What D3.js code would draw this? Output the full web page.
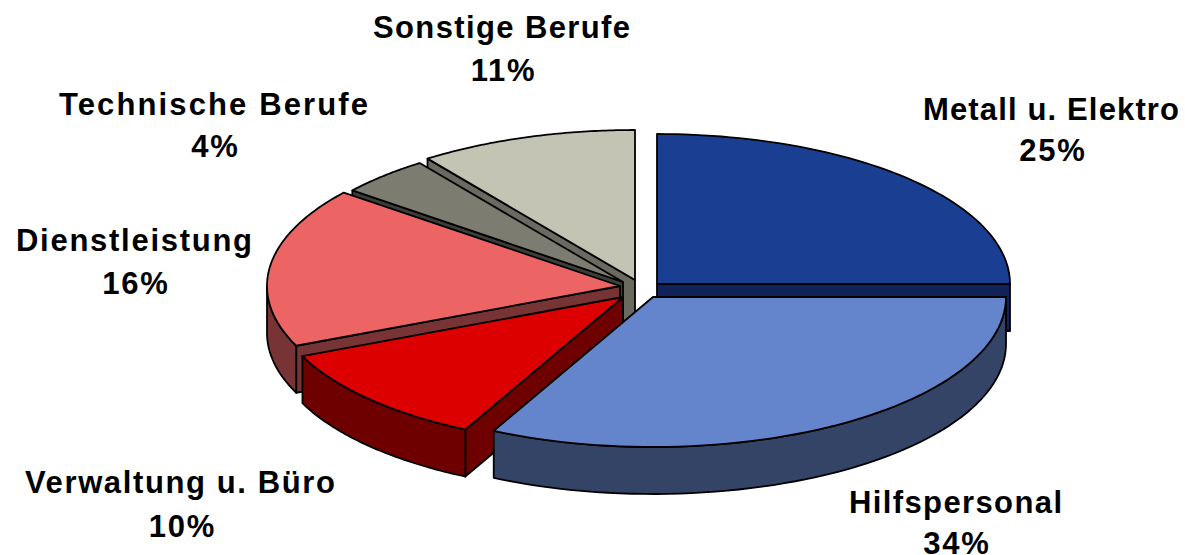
<!DOCTYPE html>
<html><head><meta charset="utf-8">
<script src="https://cdn.jsdelivr.net/npm/d3@7/dist/d3.min.js"></script>
<style>html,body{margin:0;padding:0;background:#fff;overflow:hidden}svg{display:block}
text{font-family:"Liberation Sans",Arial,sans-serif;font-weight:bold;font-size:31px;fill:#000;text-anchor:middle}
text.pct{letter-spacing:1.8px}</style>
</head><body><svg id="c" width="1185" height="555"></svg>
<script>
const categories = ["Metall u. Elektro","Hilfspersonal","Verwaltung u. Büro","Dienstleistung","Technische Berufe","Sonstige Berufe"];
const percentLabels = ["25%","34%","10%","16%","4%","11%"];
// Share of the ellipse each slice covers as drawn (perspective makes this differ from the printed percent)
const drawnShares = [25, 32.45, 11.03, 17.22, 4.3, 10];
const topColors  = ["#1a3f92","#6485cb","#dd0000","#ec6464","#7c7c70","#c3c4b4"];
const sideColors = ["#0f2358","#334466","#6e0000","#783434","#3e3e38","#6a6a60"];
// Exploded apex of each slice, slice radius factor, and label anchors
const apexX = [657,653,623,620,623,635];
const apexY = [284,297,297,286,282,280];
const radiusFactor = [1,1,0.99,1,0.98,1];
const labelX = [1051,955.5,180,134,213.5,501.5];
const labelY = [119.5,513,493,251,115,38];
const labelW = [256,213,310,236,309,257];
const pctX = [1053,957,182.5,136,215.5,503.5];
const pctY = [160.5,554,537,293.5,157,81];
const drawOrder = [5,4,3,0,2,1];
const RX = 353, RY = 150, DEPTH = 47;

const svg = d3.select("#c");
const arcs = d3.pie().value(d=>d).sort(null)(drawnShares);
const line = d3.line();
const px = (i,a)=>apexX[i]+RX*radiusFactor[i]*Math.sin(a);
const py = (i,a)=>apexY[i]-RY*radiusFactor[i]*Math.cos(a);
const samples = (a0,a1)=>d3.range(0,61).map(k=>a0+(a1-a0)*k/60);
const style = (s,fill)=>s.attr("fill",fill).attr("stroke","#000").attr("stroke-width",1.8).attr("stroke-linejoin","round");

function radialFace(i,a,fill){
  const pts=[[apexX[i],apexY[i]],[px(i,a),py(i,a)],[px(i,a),py(i,a)+DEPTH],[apexX[i],apexY[i]+DEPTH]];
  style(svg.append("path").attr("d",line(pts)+"Z"),fill);
}
drawOrder.forEach(i=>{
  const {startAngle:a0,endAngle:a1}=arcs[i];
  if(Math.sin(a0)<-1e-6) radialFace(i,a0,sideColors[i]);
  if(Math.sin(a1)>1e-6) radialFace(i,a1,sideColors[i]);
  const w0=Math.max(a0,Math.PI/2), w1=Math.min(a1,Math.PI*1.5);
  if(w1>w0+1e-6){
    const up=samples(w0,w1).map(a=>[px(i,a),py(i,a)]);
    const down=samples(w1,w0).map(a=>[px(i,a),py(i,a)+DEPTH]);
    style(svg.append("path").attr("d",line(up.concat(down))+"Z"),sideColors[i]);
  }
  const top=[[apexX[i],apexY[i]]].concat(samples(a0,a1).map(a=>[px(i,a),py(i,a)]));
  style(svg.append("path").attr("d",line(top)+"Z"),topColors[i]);
});
categories.forEach((c,i)=>{
  svg.append("text").attr("x",labelX[i]).attr("y",labelY[i])
    .attr("textLength",labelW[i]).attr("lengthAdjust","spacing").text(c);
  svg.append("text").attr("class","pct").attr("x",pctX[i]).attr("y",pctY[i]).text(percentLabels[i]);
});
</script></body></html>
